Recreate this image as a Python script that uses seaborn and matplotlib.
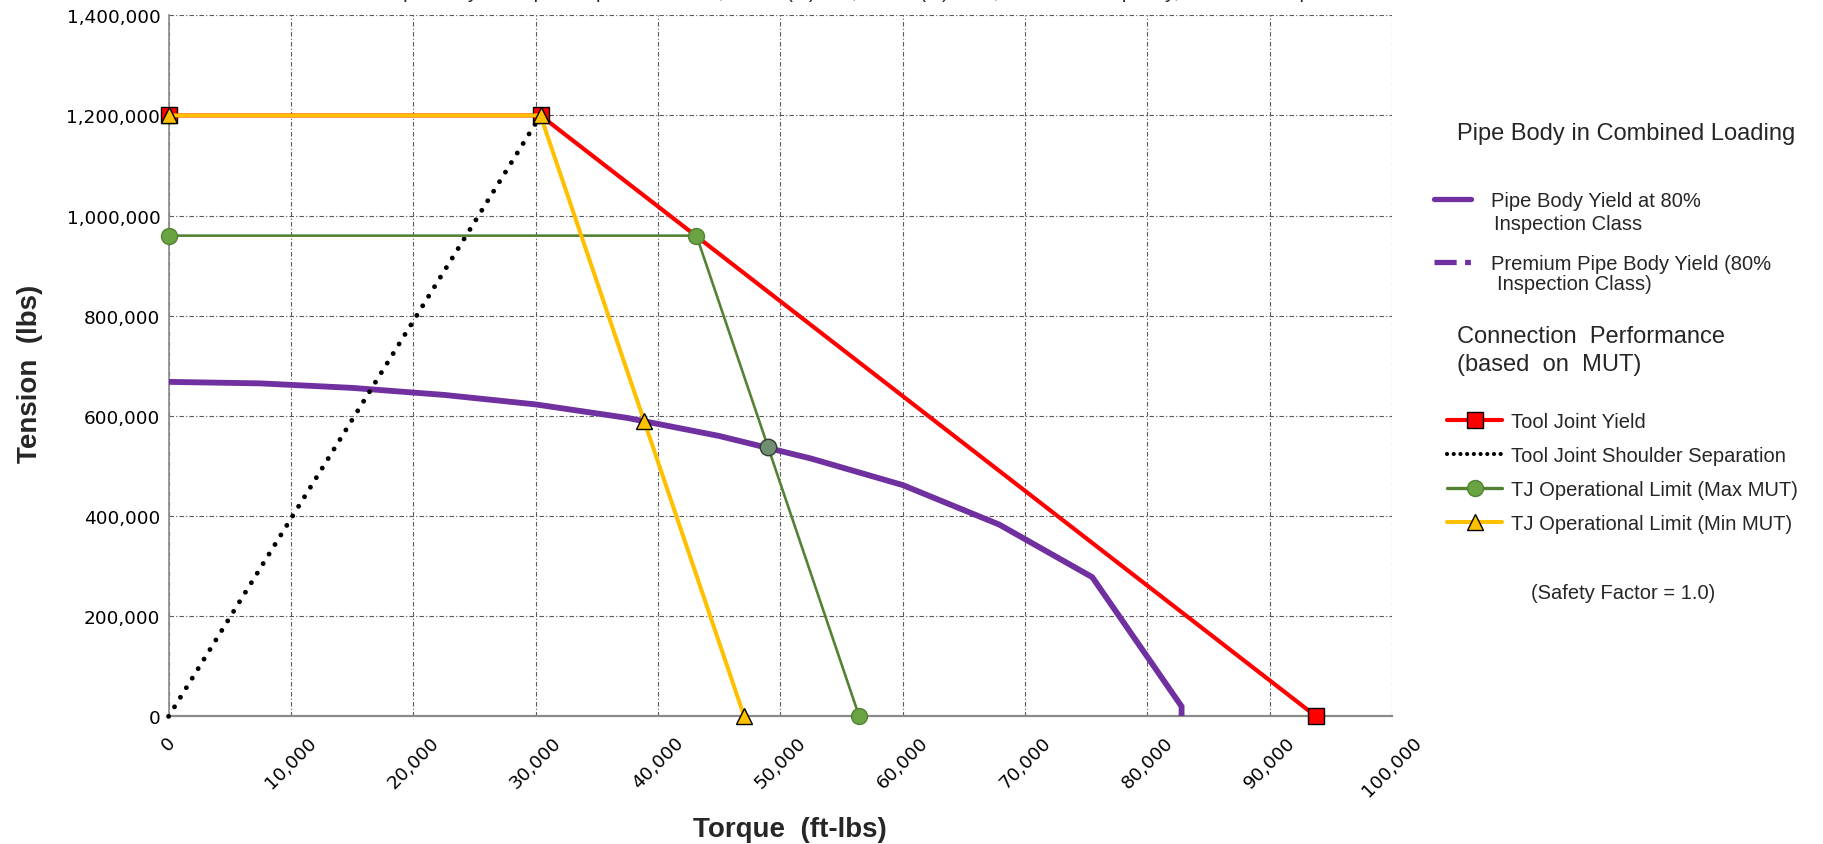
import numpy as np
import pandas as pd
import matplotlib
matplotlib.use("Agg")
import matplotlib.pyplot as plt
from matplotlib.lines import Line2D
from matplotlib.ticker import FuncFormatter
import seaborn as sns

# ---------------- data ----------------
pipe_torque = [0, 7500, 15000, 22500, 30000, 37500, 45000, 52500, 60000, 67900, 75500, 82800, 82800]
pipe_tension = [668000, 665000, 656000, 642000, 623000, 596000, 560000, 515000, 462000, 383000, 278000, 20000, 0]

tj_yield_torque = [0, 30400, 93800]
tj_yield_tension = [1200000, 1200000, 0]

shoulder_torque = [0, 30400]
shoulder_tension = [0, 1200000]

max_mut_torque = [0, 43150, 56450]
max_mut_tension = [960000, 960000, 0]

min_mut_torque = [0, 30400, 38870, 47050]
min_mut_tension = [1200000, 1200000, 590000, 0]

cross_torque = [49000]
cross_tension = [538000]

x_ticks = list(range(0, 100001, 10000))
y_ticks = list(range(0, 1400001, 200000))

title_text = ("Pipe Body Yield per Inspection Class, 5.500 (in) OD, 0.361 (in) Wall, "
              "Tool Joint Capacity, Premium Inspection Class")

# ---------------- styling ----------------
sns.set_style("white")
plt.rcParams['font.family'] = ['DejaVu Sans']

W, H = 1824, 845
fig = plt.figure(figsize=(W / 100, H / 100), dpi=100)
L, R, T, B = 168.6, 1392.0, 16.3, 717.4
ax = fig.add_axes([L / W, 1 - B / H, (R - L) / W, (B - T) / H])

PURPLE = "#7030A0"
RED = "#FF0000"
GREEN = "#548235"
GFILL = "#6AA342"
YELLOW = "#FFC000"
MS = 11.5

common = dict(estimator=None, sort=False, ax=ax, legend=False)

sns.lineplot(x=pipe_torque, y=pipe_tension, color=PURPLE, lw=4.2,
             solid_joinstyle='miter', zorder=3, **common)
sns.lineplot(x=tj_yield_torque, y=tj_yield_tension, color=RED, lw=3.0,
             marker='s', markersize=MS, markerfacecolor=RED, markeredgecolor='black',
             markeredgewidth=1.0, zorder=4, clip_on=False, **common)
sns.lineplot(x=shoulder_torque, y=shoulder_tension, color='black', lw=3.5,
             linestyle=(0, (0.01, 2.3)), dash_capstyle='round', zorder=5,
             clip_on=False, **common)
sns.lineplot(x=max_mut_torque, y=max_mut_tension, color=GREEN, lw=1.9,
             marker='o', markersize=MS, markerfacecolor=GFILL, markeredgecolor=GREEN,
             markeredgewidth=1.0, zorder=6, clip_on=False, **common)
sns.lineplot(x=min_mut_torque, y=min_mut_tension, color=YELLOW, lw=2.9,
             marker='^', markersize=MS, markerfacecolor=YELLOW, markeredgecolor='black',
             markeredgewidth=1.0, zorder=7, clip_on=False, **common)
sns.scatterplot(x=cross_torque, y=cross_tension, s=140, color="#6F8F70",
                edgecolor="#2F3F2F", linewidth=1.0, zorder=8, ax=ax, legend=False)

ax.set_xlim(0, 100000)
ax.set_ylim(0, 1400000)
ax.set_xticks(x_ticks)
ax.set_yticks(y_ticks)
fmt = FuncFormatter(lambda v, p: f"{v:,.0f}")
ax.xaxis.set_major_formatter(fmt)
ax.yaxis.set_major_formatter(fmt)
ax.tick_params(axis='both', length=0, labelsize=13.3, colors='black')
ax.tick_params(axis='y', pad=6)
ax.tick_params(axis='x', pad=12, rotation=45)
for lab in ax.get_xticklabels():
    lab.set_ha('center')
    lab.set_va('top')
    lab.set_rotation_mode('default')

ax.grid(True, which='major', color='#5a5a5a', lw=0.8, linestyle=(0, (4, 2, 1, 2)))
ax.set_axisbelow(True)
for s in ['top', 'right']:
    ax.spines[s].set_visible(False)
ax.spines['left'].set_color('#8a8a8a')
ax.spines['left'].set_linewidth(1.2)
ax.spines['bottom'].set_color('#8a8a8a')
ax.spines['bottom'].set_linewidth(1.6)

narrow = ['Liberation Sans Narrow', 'Liberation Sans']
ax.set_ylabel('Tension  (lbs)', fontsize=20, fontweight='bold', family=narrow, va='center')
ax.yaxis.set_label_coords(-0.113, 0.49)
ax.set_xlabel('Torque  (ft-lbs)', fontsize=20, fontweight='bold', family=narrow, va='center')
ax.xaxis.set_label_coords(0.508, -0.16)

# ---------------- legends / right panel ----------------
sans = ['Liberation Sans', 'DejaVu Sans']
fs_leg = 14.5
fs_head = 17

def fx(px):
    return px / W

def fy(py):
    return 1 - py / H

fig.text(fx(1457), fy(134), "Pipe Body in Combined Loading", fontsize=fs_head,
         family=sans, ha='left', va='center')

h_pipe = Line2D([], [], color=PURPLE, lw=3.8)
h_prem = Line2D([], [], color=PURPLE, lw=3.8, linestyle=(0, (4.2, 1.6, 1.1, 3)))
leg1 = fig.legend([h_pipe, h_prem], ["Pipe Body Yield at 80%", "Premium Pipe Body Yield (80%"],
                  loc='upper left', bbox_to_anchor=(fx(1434), fy(192)),
                  bbox_transform=fig.transFigure, frameon=False, borderpad=0,
                  borderaxespad=0, handlelength=1.85, handletextpad=1.0,
                  labelspacing=2.2, prop={'family': sans, 'size': fs_leg})
fig.text(fx(1494), fy(224), "Inspection Class", fontsize=fs_leg, family=sans,
         ha='left', va='center')
fig.text(fx(1497), fy(284), "Inspection Class)", fontsize=fs_leg, family=sans,
         ha='left', va='center')

fig.text(fx(1457), fy(351), "Connection  Performance\n(based  on  MUT)", fontsize=fs_head,
         family=sans, ha='left', va='center', linespacing=1.35)

h_red = Line2D([], [], color=RED, lw=3.0, marker='s', markersize=MS,
               markerfacecolor=RED, markeredgecolor='black')
h_blk = Line2D([], [], color='black', lw=3.0, linestyle=(0, (0.01, 1.6)),
               dash_capstyle='round')
h_grn = Line2D([], [], color=GREEN, lw=2.4, marker='o', markersize=MS,
               markerfacecolor=GFILL, markeredgecolor=GREEN)
h_yel = Line2D([], [], color=YELLOW, lw=2.9, marker='^', markersize=MS,
               markerfacecolor=YELLOW, markeredgecolor='black')
leg2 = fig.legend([h_red, h_blk, h_grn, h_yel],
                  ["Tool Joint Yield", "Tool Joint Shoulder Separation",
                   "TJ Operational Limit (Max MUT)", "TJ Operational Limit (Min MUT)"],
                  loc='upper left', bbox_to_anchor=(fx(1447), fy(413)),
                  bbox_transform=fig.transFigure, frameon=False, borderpad=0,
                  borderaxespad=0, handlelength=2.75, handletextpad=0.45,
                  labelspacing=0.75, prop={'family': sans, 'size': fs_leg})

fig.text(fx(1623), fy(594), "(Safety Factor = 1.0)", fontsize=fs_leg, family=sans,
         ha='center', va='center')

# title clipped at the top edge (only the descenders are visible, as in the source)
t = fig.text(fx(904), fy(-1.5), title_text, fontsize=14, family=sans,
             ha='center', va='baseline')
fig.canvas.draw()
bb = t.get_window_extent()
t.set_fontsize(14 * 1040 / bb.width)

fig.savefig("out.png", dpi=100)
